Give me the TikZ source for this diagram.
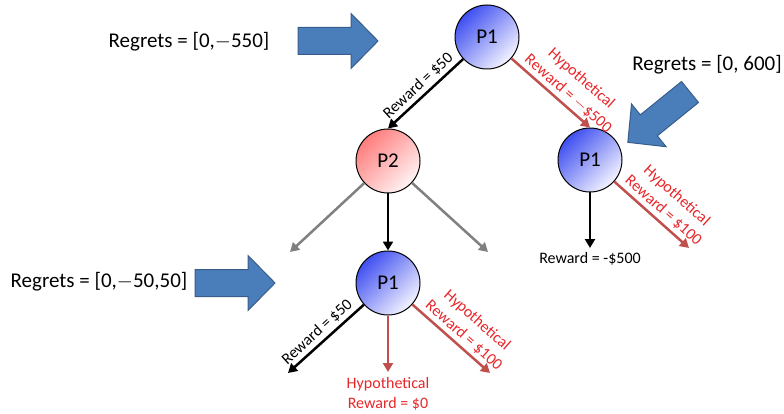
\documentclass[tikz,border=0pt]{standalone}
\usepackage{fontspec}
\setmainfont{Carlito}
\usetikzlibrary{positioning}
\usetikzlibrary{arrows.meta}

\definecolor{pone}{HTML}{3F4FF0}
\definecolor{ponelight}{HTML}{F4F4FF}
\definecolor{ptwo}{HTML}{FF7C7C}
\definecolor{ptwolight}{HTML}{FFF4F4}
\definecolor{hypored}{HTML}{C0504D}
\definecolor{hypotext}{HTML}{E8262A}
\definecolor{regretblue}{HTML}{4A7EBB}
\definecolor{regretedge}{HTML}{385D8A}

\begin{document}
\begin{tikzpicture}
 [ x=1pt, y=-1pt
 , every node/.style={font=\fontsize{16}{20}\selectfont}
 , player/.style={circle, draw, line width=1pt, minimum size=64pt, inner sep=0pt, font=\fontsize{21}{24}\selectfont}
 , first player/.style={player, top color=pone, bottom color=ponelight, shading angle=45}
 , second player/.style={player, top color=ptwo, bottom color=ptwolight, shading angle=45}
 , edge/.style={line width=2.5pt, -{Triangle[length=9pt, width=10pt]}}
 , taken/.style={edge, black}
 , hypothetical/.style={edge, hypored}
 , unexplored/.style={edge, gray}
 , hypo label/.style={text=hypotext, align=center}
 , regret/.style={font=\fontsize{21}{24}\selectfont}
 , pics/regret arrow/.style={code={
     \draw[fill=regretblue, draw=regretedge, line width=1pt]
       (0,-13.5) -- (53,-13.5) -- (53,-27.5) -- (80,0) -- (53,27.5) -- (53,13.5) -- (0,13.5) -- cycle;
   }}
 ]
  \useasboundingbox (0,0) rectangle (784,414);

  % players
  \node (root) at (487,37) [first player] {P1};
  \node (opp) at (388,161) [second player] {P2};
  \node (alt) at (590,160) [first player] {P1};
  \node (next) at (388,283) [first player] {P1};

  % loose ends
  \coordinate (opp left) at (290,252);
  \coordinate (opp right) at (488,252);
  \coordinate (alt down) at (590,248);
  \coordinate (alt right) at (689,248);
  \coordinate (next left) at (288,373);
  \coordinate (next down) at (388,372);
  \coordinate (next right) at (490,373);

  % moves
  \draw [taken] (root) -- node [sloped, above] {Reward = \$50} (opp.north);
  \draw [hypothetical] (root) -- node [sloped, above, pos=0.63, hypo label] {Hypothetical\\Reward = $-$\$500} (alt.north);

  \draw [unexplored] (opp) -- (opp left);
  \draw [taken] (opp) -- (next);
  \draw [unexplored] (opp) -- (opp right);

  \draw [taken] (alt) -- (alt down);
  \node (alt reward) [below=1pt of alt down] {Reward = -\$500};
  \draw [hypothetical] (alt) -- node [sloped, above, pos=0.56, hypo label] {Hypothetical\\Reward = \$100} (alt right);

  \draw [taken] (next) -- node [sloped, above, pos=0.52] {Reward = \$50} (next left);
  \draw [hypothetical] (next) -- (next down);
  \node (next reward) [below=2pt of next down, hypo label] {Hypothetical\\Reward = \$0};
  \draw [hypothetical] (next) -- node [sloped, above, pos=0.57, hypo label] {Hypothetical\\Reward = \$100} (next right);

  % regrets
  \node (regret root) at (189,42) [regret] {Regrets = [0,$-$550]};
  \pic at (298,41) {regret arrow};
  \node (regret alt) at (707,65) [regret] {Regrets = [0, 600]};
  \pic [rotate=219] at (690,92) {regret arrow};
  \node (regret next) at (99,282) [regret] {Regrets = [0,$-$50,50]};
  \pic at (195,283) {regret arrow};
\end{tikzpicture}
\end{document}
